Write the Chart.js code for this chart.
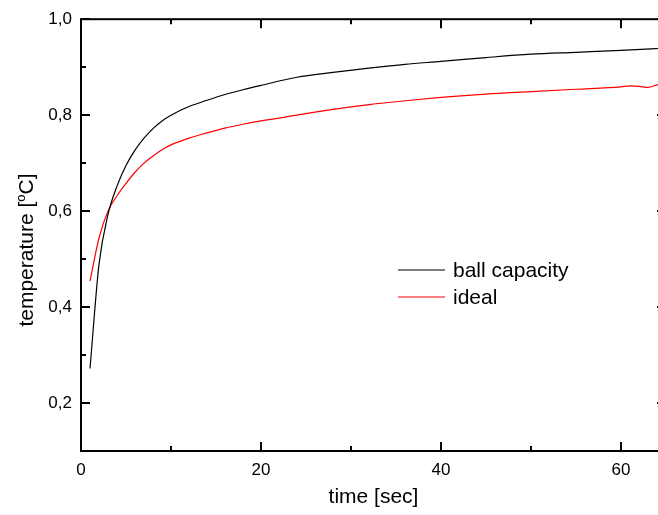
<!DOCTYPE html>
<html>
<head>
<meta charset="utf-8">
<script src="https://cdn.jsdelivr.net/npm/chart.js@4"></script>
<style>
  html, body { margin: 0; padding: 0; background: #fff; overflow: hidden; }
  #wrap { width: 676px; height: 515px; }
</style>
</head>
<body>
<div id="wrap"><canvas id="chart-temp" width="676" height="515"></canvas></div>
<script>
// time samples [sec] and temperature readings for both models
var timeBall = [1, 2, 3, 4, 5, 6, 7, 8, 9, 10, 12, 14, 16, 18, 20, 24, 28, 32, 36, 40, 45, 50, 55, 60, 65];
var tempBall = [0.272, 0.489, 0.593, 0.652, 0.695, 0.727, 0.752, 0.772, 0.788, 0.800, 0.818, 0.831, 0.843, 0.853, 0.862, 0.879, 0.889, 0.898, 0.906, 0.912, 0.920, 0.927, 0.931, 0.935, 0.940];

var timeIdeal = [1, 2, 3, 4, 5, 6, 7, 8, 9, 10, 12, 14, 16, 18, 20, 24, 28, 32, 36, 40, 45, 50, 55, 60, 61, 62, 63, 64, 65];
var tempIdeal = [0.454, 0.544, 0.600, 0.632, 0.658, 0.681, 0.700, 0.715, 0.728, 0.738, 0.752, 0.763, 0.773, 0.781, 0.788, 0.800, 0.812, 0.822, 0.830, 0.837, 0.844, 0.849, 0.854, 0.859, 0.861, 0.860, 0.858, 0.863, 0.866];

var seriesNames = ["ball capacity", "ideal"];
var seriesColors = ["#000000", "#ff0000"];

var xTitle = "time [sec]";
var yTitleParts = ["temperature [", "o", "C]"];

var FONT = "'Liberation Sans', Arial, sans-serif";

function toPoints(xs, ys) {
  return xs.map(function (x, i) { return { x: x, y: ys[i] }; });
}

// frame, inward ticks, axis titles and legend
var framePlugin = {
  id: "frame",
  afterDraw: function (chart) {
    var c = chart.ctx;
    var a = chart.chartArea;
    var xs = chart.scales.x;
    var ys = chart.scales.y;
    c.save();
    c.strokeStyle = "#000";
    c.lineWidth = 2;
    c.strokeRect(a.left, a.top, a.right - a.left, a.bottom - a.top);

    c.beginPath();
    for (var v = 0; v <= 60; v += 10) {
      var px = Math.round(xs.getPixelForValue(v));
      var len = v % 20 === 0 ? 9 : 5;
      c.moveTo(px, a.bottom); c.lineTo(px, a.bottom - len);
      c.moveTo(px, a.top); c.lineTo(px, a.top + len);
    }
    for (var k = 2; k <= 10; k++) {
      var py = Math.round(ys.getPixelForValue(k / 10));
      var ylen = k % 2 === 0 ? 9 : 5;
      c.moveTo(a.left, py); c.lineTo(a.left + ylen, py);
      c.moveTo(a.right, py); c.lineTo(a.right - ylen, py);
    }
    c.stroke();

    c.fillStyle = "#000";
    c.font = "21px " + FONT;
    c.textAlign = "center";
    c.textBaseline = "alphabetic";
    c.fillText(xTitle, (a.left + a.right) / 2, 503);

    // rotated y title with superscript degree mark
    c.save();
    c.translate(33, 250);
    c.rotate(-Math.PI / 2);
    c.textAlign = "left";
    c.font = "21px " + FONT;
    var w0 = c.measureText(yTitleParts[0]).width;
    var w2 = c.measureText(yTitleParts[2]).width;
    c.font = "13px " + FONT;
    var w1 = c.measureText(yTitleParts[1]).width;
    var start = -(w0 + w1 + w2) / 2;
    c.font = "21px " + FONT;
    c.fillText(yTitleParts[0], start, 0);
    c.font = "13px " + FONT;
    c.fillText(yTitleParts[1], start + w0, -8);
    c.font = "21px " + FONT;
    c.fillText(yTitleParts[2], start + w0 + w1, 0);
    c.restore();

    // legend
    var rows = [270, 297];
    c.lineWidth = 1.2;
    c.font = "21px " + FONT;
    c.textAlign = "left";
    for (var i = 0; i < seriesNames.length; i++) {
      c.strokeStyle = seriesColors[i];
      c.beginPath();
      c.moveTo(398, rows[i]);
      c.lineTo(445, rows[i]);
      c.stroke();
      c.fillText(seriesNames[i], 453, rows[i] + 6.5);
    }
    c.restore();
  }
};

new Chart(document.getElementById("chart-temp").getContext("2d"), {
  type: "line",
  data: {
    datasets: [
      {
        label: seriesNames[0],
        data: toPoints(timeBall, tempBall),
        borderColor: seriesColors[0],
        borderWidth: 1.2,
        pointRadius: 0,
        fill: false,
        cubicInterpolationMode: "monotone",
      },
      {
        label: seriesNames[1],
        data: toPoints(timeIdeal, tempIdeal),
        borderColor: seriesColors[1],
        borderWidth: 1.2,
        pointRadius: 0,
        fill: false,
        cubicInterpolationMode: "monotone",
      },
    ],
  },
  options: {
    responsive: false,
    animation: false,
    layout: { padding: { left: 0, top: 16, right: 10, bottom: 0 } },
    plugins: {
      legend: { display: false },
      tooltip: { enabled: false },
    },
    scales: {
      x: {
        type: "linear",
        min: 0,
        max: 65,
        afterFit: function (s) { s.height = 64; },
        grid: { display: false, drawTicks: false },
        border: { display: false },
        ticks: {
          stepSize: 10,
          padding: 9,
          color: "#000",
          font: { size: 17, family: FONT },
          maxRotation: 0,
          callback: function (v) { return v % 20 === 0 ? String(v) : ""; },
        },
      },
      y: {
        type: "linear",
        min: 0.1,
        max: 1.0,
        afterFit: function (s) { s.width = 81; },
        grid: { display: false, drawTicks: false },
        border: { display: false },
        ticks: {
          stepSize: 0.1,
          padding: 9,
          color: "#000",
          font: { size: 17, family: FONT },
          callback: function (v) {
            var k = Math.round(v * 10);
            return k % 2 === 0 ? (k / 10).toFixed(1).replace(".", ",") : "";
          },
        },
      },
    },
  },
  plugins: [framePlugin],
});
</script>
</body>
</html>
